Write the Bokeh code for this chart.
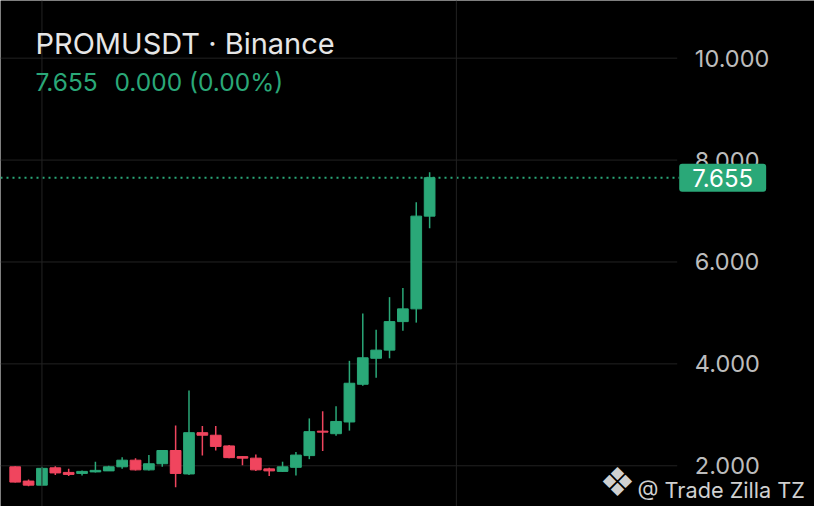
from bokeh.plotting import figure
from bokeh.models import Range1d, Label, Span
from bokeh.core.properties import value
from bokeh.embed import file_html
from bokeh.resources import INLINE

# ---- data ----
idx = list(range(32))
opens  = [1.98, 1.70, 1.62, 1.96, 1.87, 1.85, 1.88, 1.90, 1.98, 2.11, 1.92, 2.04, 2.30, 1.84, 2.65, 2.60,
          2.39, 2.18, 2.15, 1.94, 1.89, 1.97, 2.20, 2.68, 2.63, 2.86, 3.60, 4.11, 4.27, 4.83, 5.08, 6.90]
highs  = [1.99, 1.73, 1.98, 1.99, 1.94, 1.91, 2.08, 2.00, 2.17, 2.15, 2.21, 2.31, 2.79, 3.48, 2.78, 2.78,
          2.41, 2.19, 2.22, 1.96, 2.08, 2.27, 2.93, 3.07, 3.17, 4.06, 4.99, 4.67, 5.31, 5.49, 7.17, 7.76]
lows   = [1.67, 1.60, 1.61, 1.82, 1.80, 1.81, 1.87, 1.90, 1.94, 1.91, 1.91, 1.98, 1.58, 1.82, 2.20, 2.30,
          2.15, 2.01, 1.90, 1.80, 1.88, 1.81, 2.13, 2.29, 2.59, 2.69, 3.57, 3.73, 4.11, 4.65, 4.81, 6.66]
closes = [1.68, 1.62, 1.95, 1.86, 1.83, 1.89, 1.91, 1.98, 2.11, 1.92, 2.04, 2.30, 1.85, 2.65, 2.60, 2.38,
          2.16, 2.15, 1.92, 1.90, 1.98, 2.21, 2.67, 2.66, 2.87, 3.62, 4.12, 4.27, 4.83, 5.08, 6.90, 7.655]
y_ticks = [2, 4, 6, 8, 10]
y_tick_labels = ["2.000", "4.000", "6.000", "8.000", "10.000"]
time_grid = [2, 33]
last_price = 7.655
title_text = "PROMUSDT · Binance"
price_text = "7.655"
change_text = "0.000 (0.00%)"
watermark_text = "@ Trade Zilla TZ"

UP = "#2aa878"
DOWN = "#f0455e"
GRID = "#222222"
FONT = "Inter"

X0, X1 = -1.10, 59.79           # visible index range (whole figure width)
PANE_END = 49.52                # where the price pane ends (price scale to the right)
SCALE_X = 50.84                 # left edge of price-scale labels
BOX_X = 49.67                   # left edge of last-price box

p = figure(width=814, height=506,
           x_range=Range1d(X0, X1), y_range=Range1d(1.201, 11.132),
           x_axis_location=None, y_axis_location=None,
           output_backend="svg", toolbar_location=None,
           background_fill_color="#000000", border_fill_color="#000000",
           outline_line_color=None,
           min_border_left=0, min_border_top=0, min_border_bottom=0, min_border_right=0)
p.grid.visible = False

# grid lines
for t in time_grid:
    p.add_layout(Span(location=t, dimension="height", line_color=GRID, line_width=1))
p.segment(x0=[X0] * len(y_ticks), y0=y_ticks, x1=[PANE_END] * len(y_ticks), y1=y_ticks,
          line_color=GRID, line_width=1)

# price scale labels
p.text(x=[SCALE_X] * len(y_ticks), y=y_ticks, text=y_tick_labels,
       text_font=value(FONT), text_font_size="23.5px", text_color="#bcbcbc",
       text_align="left", text_baseline="middle")

# candles
colors = [UP if c >= o else DOWN for o, c in zip(opens, closes)]
tops = [max(o, c) for o, c in zip(opens, closes)]
bots = [min(o, c) for o, c in zip(opens, closes)]
p.segment(x0=idx, y0=highs, x1=idx, y1=lows, line_color=colors, line_width=1.5)
p.vbar(x=idx, width=0.8, top=tops, bottom=bots, fill_color=colors, line_color=colors, line_width=1)

# last price line + box
p.segment(x0=[X0], y0=[last_price], x1=[BOX_X], y1=[last_price], line_color=UP,
          line_dash="2 4", line_width=2)
p.add_layout(Label(x=BOX_X, y=last_price, text=price_text,
                   text_align="left", text_baseline="middle", text_color="#ffffff",
                   text_font=FONT, text_font_size="24px",
                   background_fill_color=UP, border_radius=3,
                   padding=dict(left=13, right=13, top=5, bottom=5)))

# header texts
p.add_layout(Label(x=35, y=463, x_units="screen", y_units="screen", text=title_text,
                   text_align="left", text_baseline="alphabetic", text_color="#e6e6e6",
                   text_font=FONT, text_font_size="29px"))
p.add_layout(Label(x=35, y=425, x_units="screen", y_units="screen", text=price_text,
                   text_align="left", text_baseline="alphabetic", text_color=UP,
                   text_font=FONT, text_font_size="24.5px"))
p.add_layout(Label(x=114, y=425, x_units="screen", y_units="screen", text=change_text,
                   text_align="left", text_baseline="alphabetic", text_color=UP,
                   text_font=FONT, text_font_size="24.5px"))

# watermark
p.add_layout(Label(x=617, y=25, x_units="screen", y_units="screen", text="❖",
                   text_align="center", text_baseline="middle", text_color="#d0d0d0",
                   text_font="DejaVu Sans", text_font_size="40px"))
p.add_layout(Label(x=637, y=17, x_units="screen", y_units="screen", text=watermark_text,
                   text_align="left", text_baseline="alphabetic", text_color="#d0d0d0",
                   text_font=FONT, text_font_size="21.7px"))

open("out.html", "w").write(file_html(p, INLINE))
